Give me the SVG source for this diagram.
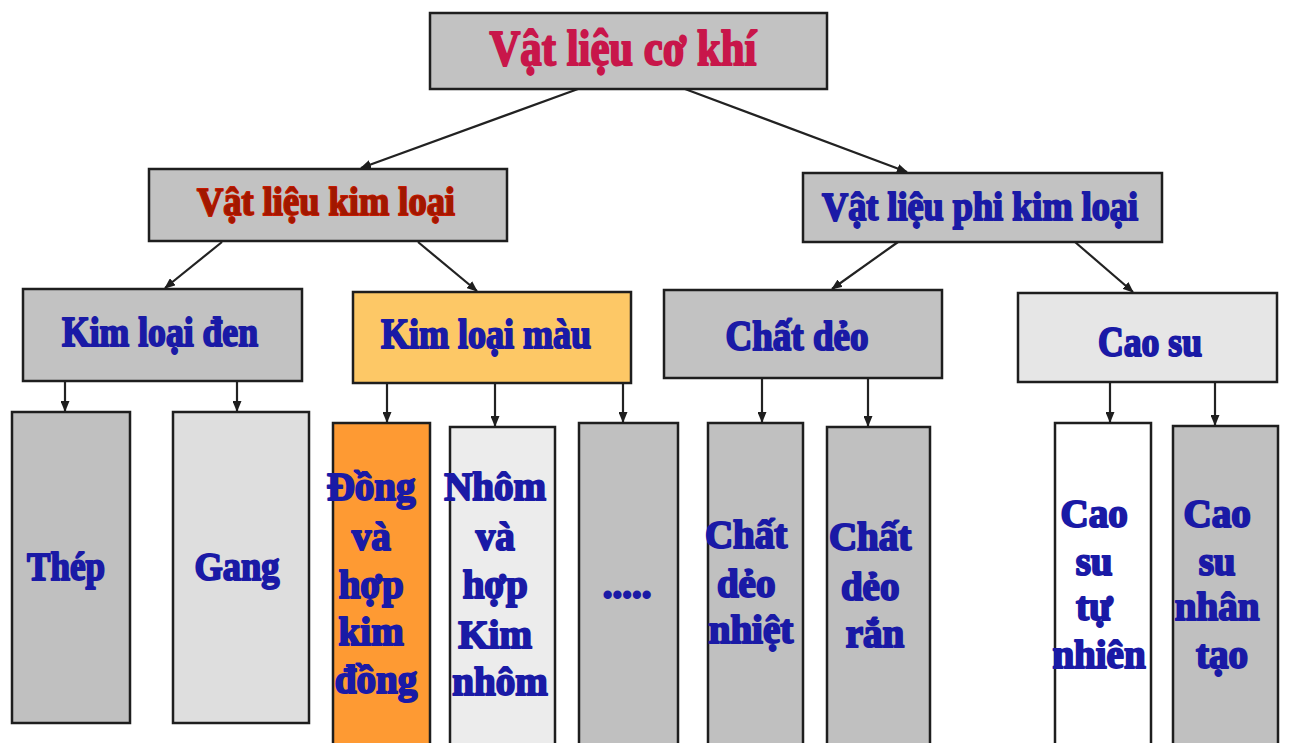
<svg xmlns="http://www.w3.org/2000/svg" width="1291" height="743" viewBox="0 0 1291 743">
<style>
.box{stroke:#1e1e1e;stroke-width:2.5}
.t{font-family:"Liberation Serif","DejaVu Serif",serif;font-weight:bold;text-anchor:middle;stroke-width:2;paint-order:stroke;stroke-linejoin:round}
.blue{fill:#1a1aa6;stroke:#1a1aa6}
.con{stroke:#222;stroke-width:2.2;fill:none;marker-end:url(#ah)}
</style>
<defs>
<marker id="ah" markerUnits="userSpaceOnUse" markerWidth="11" markerHeight="9" refX="10" refY="4.5" orient="auto">
<path d="M0,0 L11,4.5 L0,9 z" fill="#1e1e1e"/>
</marker>
</defs>
<rect width="1291" height="743" fill="#ffffff"/>
<g id="connectors">
<line class="con" x1="578" y1="89" x2="361" y2="168"/>
<line class="con" x1="685" y1="89" x2="907" y2="172"/>
<line class="con" x1="222" y1="242" x2="165" y2="288"/>
<line class="con" x1="418" y1="242" x2="477" y2="291"/>
<line class="con" x1="898" y1="242" x2="832" y2="289"/>
<line class="con" x1="1075" y1="242" x2="1133" y2="292"/>
<line class="con" x1="65" y1="381" x2="65" y2="411"/>
<line class="con" x1="237" y1="381" x2="237" y2="411"/>
<line class="con" x1="387" y1="383" x2="387" y2="422"/>
<line class="con" x1="495" y1="383" x2="495" y2="426"/>
<line class="con" x1="623" y1="383" x2="623" y2="422"/>
<line class="con" x1="762" y1="378" x2="762" y2="422"/>
<line class="con" x1="868" y1="378" x2="868" y2="426"/>
<line class="con" x1="1110" y1="382" x2="1110" y2="422"/>
<line class="con" x1="1215" y1="382" x2="1215" y2="425"/>
</g>
<g id="vat-lieu-co-khi">
<rect class="box" x="430" y="13" width="397" height="76" fill="#c2c2c2"/>
<text class="t" x="623" y="65" font-size="50" fill="#c8164a" stroke="#c8164a" textLength="267" lengthAdjust="spacingAndGlyphs">Vật liệu cơ khí</text>
</g>
<g id="vat-lieu-kim-loai">
<rect class="box" x="149" y="169" width="358" height="72" fill="#c2c2c2"/>
<text class="t" x="326" y="215" font-size="41" fill="#a01800" stroke="#c81800" textLength="258" lengthAdjust="spacingAndGlyphs">Vật liệu kim loại</text>
</g>
<g id="vat-lieu-phi-kim-loai">
<rect class="box" x="803" y="173" width="359" height="69" fill="#c2c2c2"/>
<text class="t blue" x="980" y="220" font-size="41" textLength="316" lengthAdjust="spacingAndGlyphs">Vật liệu phi kim loại</text>
</g>
<g id="kim-loai-den">
<rect class="box" x="23" y="289" width="279" height="92" fill="#c2c2c2"/>
<text class="t blue" x="160" y="346" font-size="42" textLength="196" lengthAdjust="spacingAndGlyphs">Kim loại đen</text>
</g>
<g id="kim-loai-mau">
<rect class="box" x="353" y="292" width="278" height="91" fill="#fdc866"/>
<text class="t blue" x="486" y="348" font-size="42" textLength="210" lengthAdjust="spacingAndGlyphs">Kim loại màu</text>
</g>
<g id="chat-deo">
<rect class="box" x="664" y="290" width="278" height="88" fill="#c2c2c2"/>
<text class="t blue" x="797" y="350" font-size="42" textLength="143" lengthAdjust="spacingAndGlyphs">Chất dẻo</text>
</g>
<g id="cao-su">
<rect class="box" x="1018" y="293" width="259" height="89" fill="#e6e6e6"/>
<text class="t blue" x="1150" y="356" font-size="42" textLength="104" lengthAdjust="spacingAndGlyphs">Cao su</text>
</g>
<g id="thep">
<rect class="box" x="12" y="412" width="118" height="311" fill="#c0c0c0"/>
<text class="t blue" x="66" y="580" font-size="41" textLength="78" lengthAdjust="spacingAndGlyphs">Thép</text>
</g>
<g id="gang">
<rect class="box" x="173" y="412" width="136" height="311" fill="#dedede"/>
<text class="t blue" x="237" y="580" font-size="41" textLength="85" lengthAdjust="spacingAndGlyphs">Gang</text>
</g>
<g id="dong">
<rect class="box" x="333" y="423" width="97" height="335" fill="#fe9a33"/>
<text class="t blue" font-size="39">
<tspan x="376" y="500">Đồng</tspan>
<tspan x="376" y="550">và</tspan>
<tspan x="376" y="598">hợp</tspan>
<tspan x="376" y="645">kim</tspan>
<tspan x="376" y="693">đồng</tspan>
</text>
</g>
<g id="nhom">
<rect class="box" x="450" y="427" width="105" height="330" fill="#ececec"/>
<text class="t blue" font-size="39">
<tspan x="500" y="500">Nhôm</tspan>
<tspan x="500" y="550">và</tspan>
<tspan x="500" y="598">hợp</tspan>
<tspan x="500" y="648">Kim</tspan>
<tspan x="500" y="695">nhôm</tspan>
</text>
</g>
<g id="khac">
<rect class="box" x="579" y="423" width="99" height="335" fill="#c0c0c0"/>
<text class="t blue" x="627" y="598" font-size="39">.....</text>
</g>
<g id="chat-deo-nhiet">
<rect class="box" x="708" y="423" width="95" height="335" fill="#c0c0c0"/>
<text class="t blue" font-size="39">
<tspan x="751" y="548">Chất</tspan>
<tspan x="751" y="597">dẻo</tspan>
<tspan x="751" y="643">nhiệt</tspan>
</text>
</g>
<g id="chat-deo-ran">
<rect class="box" x="827" y="427" width="103" height="330" fill="#c0c0c0"/>
<text class="t blue" font-size="39">
<tspan x="875" y="550">Chất</tspan>
<tspan x="875" y="600">dẻo</tspan>
<tspan x="875" y="647">rắn</tspan>
</text>
</g>
<g id="cao-su-tu-nhien">
<rect class="box" x="1055" y="423" width="96" height="335" fill="#ffffff"/>
<text class="t blue" font-size="39">
<tspan x="1099" y="527">Cao</tspan>
<tspan x="1099" y="575">su</tspan>
<tspan x="1099" y="620">tự</tspan>
<tspan x="1099" y="668">nhiên</tspan>
</text>
</g>
<g id="cao-su-nhan-tao">
<rect class="box" x="1173" y="426" width="105" height="332" fill="#c0c0c0"/>
<text class="t blue" font-size="39">
<tspan x="1222" y="527">Cao</tspan>
<tspan x="1222" y="575">su</tspan>
<tspan x="1222" y="620">nhân</tspan>
<tspan x="1222" y="668">tạo</tspan>
</text>
</g>
</svg>
